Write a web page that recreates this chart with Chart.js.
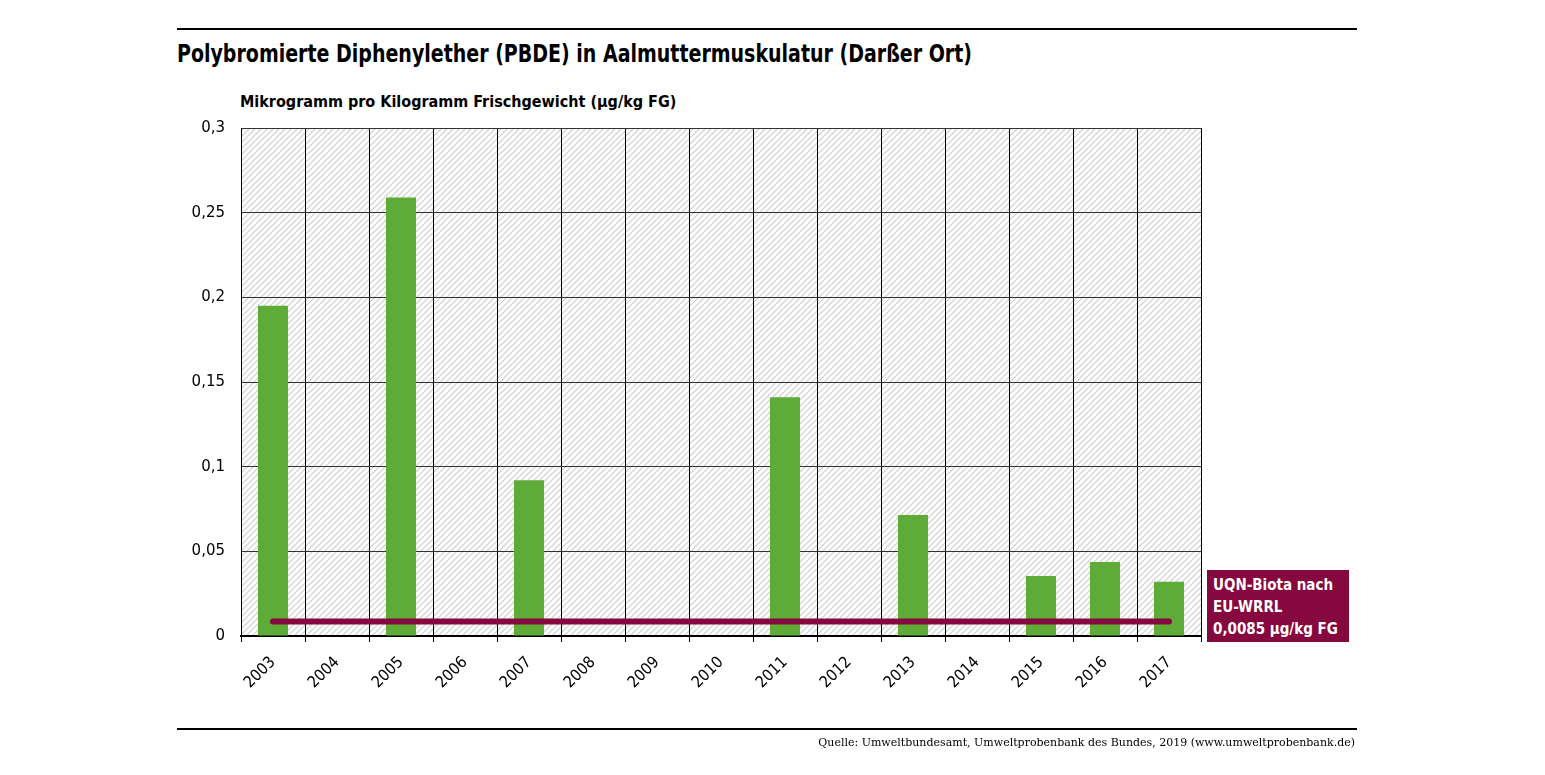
<!DOCTYPE html>
<html lang="de">
<head>
  <meta charset="UTF-8">
  <title>PBDE in Aalmuttermuskulatur</title>
  <script src="https://cdn.jsdelivr.net/npm/chart.js"></script>
  <style>
    body { margin: 0; background: #fff; width: 1545px; height: 775px; overflow: hidden; position: relative; }
    .rule { position: absolute; left: 177px; width: 1180px; height: 2px; background: #000; }
    #title { position: absolute; left: 177px; top: 40px; font: bold 24px "DejaVu Sans Condensed", sans-serif; color: #000;
      transform: scaleX(0.88); transform-origin: left top; white-space: nowrap; }
    #unit { position: absolute; left: 240px; top: 92px; font: bold 16px "DejaVu Sans Condensed", sans-serif; color: #000; }
    #source { position: absolute; right: 190px; top: 736px; font: 11px "DejaVu Serif", serif; color: #000; }
    #legend { position: absolute; left: 1207px; top: 570px; width: 132px; height: 64px; padding: 4px 4px 4px 6px;
      background: #85093f; color: #fff; font: bold 15px "DejaVu Sans Condensed", sans-serif; line-height: 22px; }
    #wrap { position: absolute; left: 0; top: 0; width: 1545px; height: 775px; }
  </style>
</head>
<body>
  <div class="rule" style="top:28px"></div>
  <div id="title">Polybromierte Diphenylether (PBDE) in Aalmuttermuskulatur (Darßer Ort)</div>
  <div id="unit">Mikrogramm pro Kilogramm Frischgewicht (µg/kg FG)</div>
  <div id="wrap"><canvas id="chart"></canvas></div>
  <div id="legend">UQN-Biota nach<br>EU-WRRL<br>0,0085 µg/kg FG</div>
  <div class="rule" style="top:728px"></div>
  <div id="source">Quelle: Umweltbundesamt, Umweltprobenbank des Bundes, 2019 (www.umweltprobenbank.de)</div>

<script>
const years = ['2003','2004','2005','2006','2007','2008','2009','2010','2011','2012','2013','2014','2015','2016','2017'];
const pbde = [0.195, null, 0.259, null, 0.092, null, null, null, 0.141, null, 0.0715, null, 0.0355, 0.0437, 0.032];
const uqn = [0.0085, 0.0085, 0.0085, 0.0085, 0.0085, 0.0085, 0.0085, 0.0085, 0.0085, 0.0085, 0.0085, 0.0085, 0.0085, 0.0085, 0.0085];
const yTicks = [0, 0.05, 0.1, 0.15, 0.2, 0.25, 0.3];

// hatched background of the plot area, stripes rising to the right
function makeHatch() {
  const c = document.createElement('canvas');
  c.width = 6; c.height = 6;
  const g = c.getContext('2d');
  g.strokeStyle = '#d4d4d4';
  g.lineWidth = 1.3;
  g.beginPath();
  g.moveTo(0, 6); g.lineTo(6, 0);
  g.moveTo(-3, 3); g.lineTo(3, -3);
  g.moveTo(3, 9); g.lineTo(9, 3);
  g.stroke();
  return c;
}

const hatchPlugin = {
  id: 'hatch',
  beforeDraw(chart) {
    const { ctx, chartArea: a } = chart;
    ctx.save();
    ctx.fillStyle = ctx.createPattern(makeHatch(), 'repeat');
    ctx.fillRect(a.left, a.top, a.right - a.left, a.bottom - a.top);
    ctx.restore();
  }
};

new Chart(document.getElementById('chart'), {
  data: {
    labels: years,
    datasets: [
      {
        type: 'line',
        data: uqn,
        borderColor: '#85093f',
        borderWidth: 6,
        borderCapStyle: 'round',
        pointRadius: 0,
        order: 0
      },
      {
        type: 'bar',
        data: pbde,
        backgroundColor: '#5fab37',
        categoryPercentage: 1,
        barPercentage: 0.47,
        order: 1
      }
    ]
  },
  plugins: [hatchPlugin],
  options: {
    responsive: true,
    maintainAspectRatio: false,
    animation: false,
    layout: { padding: { top: 128, right: 344, left: 0, bottom: 0 } },
    plugins: { legend: { display: false }, tooltip: { enabled: false } },
    scales: {
      x: {
        offset: true,
        grid: { offset: true, color: '#000', lineWidth: 1, tickLength: 6, drawOnChartArea: true },
        border: { color: '#000', width: 2 },
        ticks: {
          color: '#000', maxRotation: 45, minRotation: 45, padding: 11,
          font: { family: '"DejaVu Sans Condensed", "DejaVu Sans", sans-serif', size: 16 }
        },
        afterFit(s) { s.height = 139; }
      },
      y: {
        min: 0, max: 0.3,
        afterBuildTicks(s) { s.ticks = yTicks.map(v => ({ value: v })); },
        grid: { color: '#333', lineWidth: 1, drawTicks: false },
        border: { color: '#000', width: 1 },
        ticks: {
          color: '#000', padding: 16,
          font: { family: '"DejaVu Sans", sans-serif', size: 15 },
          callback: v => String(v).replace('.', ',')
        },
        afterFit(s) { s.width = 241; }
      }
    }
  }
});
</script>
</body>
</html>
